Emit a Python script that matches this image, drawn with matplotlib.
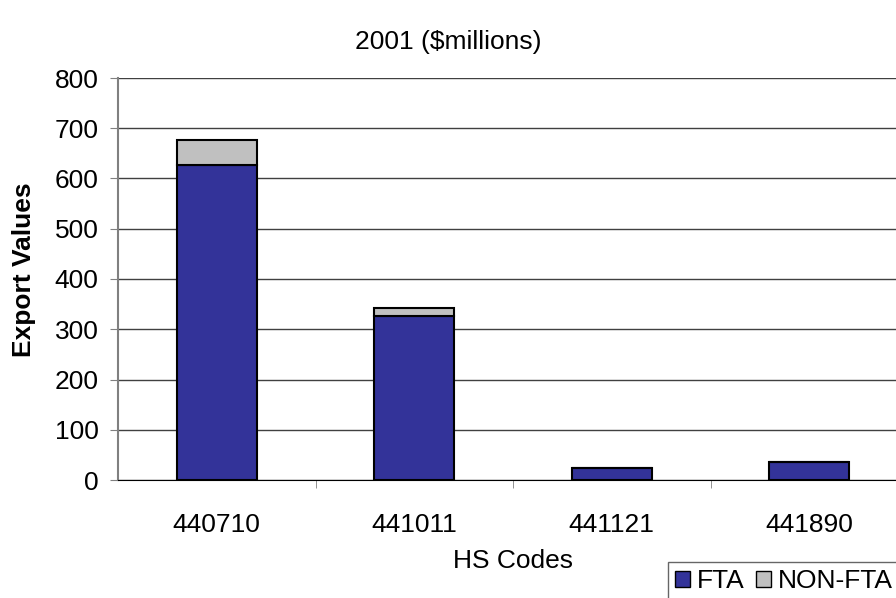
import matplotlib.pyplot as plt
from matplotlib.patches import Patch

plt.rcParams['font.family'] = ['Liberation Sans', 'DejaVu Sans']

codes = ["440710", "441011", "441121", "441890"]
fta = [627, 326, 24, 36]
non_fta = [50, 16, 0, 0]

fig = plt.figure(figsize=(8.96, 5.98), dpi=100)
# plot area runs a bit past the right edge, like the original
ax = fig.add_axes([118 / 896, 1 - 480 / 598, 790 / 896, 402 / 598])

x = range(len(codes))
ax.bar(x, fta, width=0.405, color='#333399', edgecolor='black', linewidth=1.5, zorder=3)
ax.bar(x, non_fta, bottom=fta, width=0.405, color='#c0c0c0', edgecolor='black',
       linewidth=1.5, zorder=3)

ax.set_xlim(-0.5, 3.5)
ax.set_ylim(0, 800)
ax.set_yticks(range(0, 801, 100))
ax.set_xticks(x)
ax.set_xticklabels(codes)
ax.set_xticks([0.5, 1.5, 2.5, 3.5], minor=True)
ax.tick_params(axis='x', which='major', length=0, pad=24, labelsize=19)
ax.tick_params(axis='x', which='minor', length=6, color='#808080', direction='out')
ax.tick_params(axis='y', length=6, color='#808080', direction='out', labelsize=19, pad=8)
ax.yaxis.grid(True, color='#404040', linewidth=1)
ax.set_axisbelow(True)

for s in ['top', 'right']:
    ax.spines[s].set_visible(False)
ax.spines['left'].set_color('#808080')
ax.spines['left'].set_linewidth(1.5)
ax.spines['bottom'].set_color('black')

ax.set_xlabel("HS Codes", fontsize=19)
ax.xaxis.set_label_coords(0.5, -(549 - 480) / 402)

fig.text(24 / 896, 1 - 270 / 598, "Export Values", rotation=90, fontsize=19,
         fontweight='bold', ha='center', va='center')
fig.text(448 / 896, 1 - 42 / 598, "2001 ($millions)", fontsize=19, ha='center', va='center')

handles = [Patch(facecolor='#333399', edgecolor='black'),
           Patch(facecolor='#c0c0c0', edgecolor='black')]
leg = fig.legend(handles, ["FTA", "NON-FTA"], loc='upper left',
                 bbox_to_anchor=(668 / 896, 1 - 562 / 598), ncol=2, fontsize=19,
                 frameon=True, fancybox=False, edgecolor='#404040',
                 handlelength=0.57, handleheight=0.57, handletextpad=0.27,
                 columnspacing=0.42, borderpad=0.27, borderaxespad=0)
leg.get_frame().set_linewidth(1)

fig.savefig("out.png", dpi=100)
